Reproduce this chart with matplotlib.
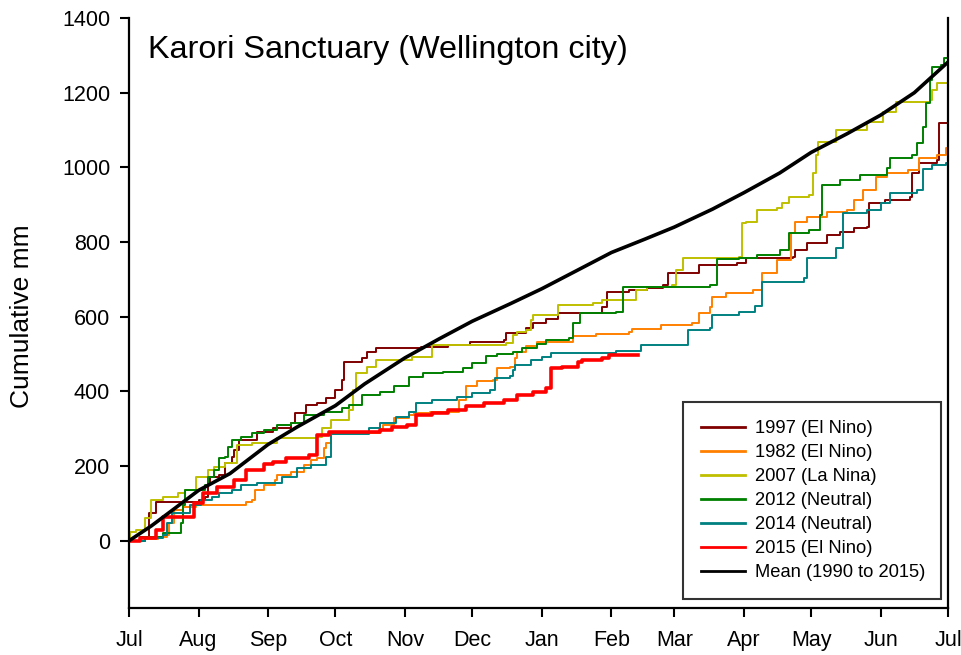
import matplotlib
matplotlib.use("Agg")
import matplotlib.pyplot as plt

plt.rcParams['font.family'] = ['Liberation Sans', 'DejaVu Sans']

# ---- axis labels / ticks ----
month_days = [0, 31, 62, 92, 123, 153, 184, 215, 243, 274, 304, 335, 365]
month_labels = ['Jul', 'Aug', 'Sep', 'Oct', 'Nov', 'Dec', 'Jan', 'Feb', 'Mar',
                'Apr', 'May', 'Jun', 'Jul']
y_ticks = [0, 200, 400, 600, 800, 1000, 1200, 1400]

# ---- series (day since 1 July, cumulative mm) ----
d1997 = [0, 5, 9, 12, 31, 34, 35, 36, 40, 43, 46, 47, 49, 57, 64, 72, 74, 79, 84, 88,
         92, 95, 96, 104, 106, 110, 130, 142, 152, 167, 168, 177, 180, 186, 191, 211,
         213, 223, 231, 238, 240, 254, 271, 275, 296, 297, 302, 311, 317, 323, 329,
         330, 337, 348, 349, 352, 360, 361, 365]
v1997 = [0, 11, 75, 104, 110, 118, 155, 171, 177, 209, 225, 244, 270, 292, 303, 316,
         343, 364, 369, 383, 404, 431, 479, 490, 506, 517, 519, 525, 533, 538, 557,
         570, 583, 595, 610, 626, 667, 672, 677, 685, 717, 739, 744, 758, 760, 779,
         798, 819, 827, 838, 841, 905, 913, 921, 985, 1012, 1020, 1119, 1127]

d1982 = [0, 7, 13, 17, 18, 20, 24, 30, 52, 55, 56, 60, 65, 66, 72, 78, 81, 84, 87, 88,
         90, 112, 113, 118, 125, 127, 134, 147, 150, 155, 162, 164, 170, 172, 173,
         177, 182, 198, 208, 223, 224, 237, 251, 254, 259, 260, 266, 278, 282, 289,
         295, 297, 302, 311, 320, 323, 327, 333, 338, 347, 352, 360, 364, 365]
v1982 = [0, 5, 11, 16, 48, 83, 91, 96, 104, 110, 137, 150, 163, 177, 185, 203, 217,
         222, 249, 262, 288, 300, 311, 329, 337, 343, 345, 378, 415, 428, 431, 462,
         466, 490, 506, 522, 533, 549, 555, 560, 568, 578, 583, 610, 626, 652, 664,
         672, 717, 752, 824, 855, 867, 881, 886, 913, 940, 975, 985, 993, 1025, 1033,
         1052, 1052]

d2007 = [0, 0.5, 3, 7, 10, 15, 22, 25, 30, 35, 38, 43, 48, 55, 66, 84, 86, 90, 98,
         100, 101, 106, 110, 126, 135, 168, 171, 173, 177, 179, 180, 191, 207, 211,
         223, 226, 231, 242, 244, 247, 272, 273, 275, 280, 289, 291, 294, 303, 305,
         306, 307, 315, 329, 336, 342, 357, 358, 360, 365]
v2007 = [0, 24, 29, 61, 110, 118, 128, 137, 171, 190, 198, 209, 257, 262, 276, 278,
         303, 324, 351, 404, 450, 466, 485, 493, 525, 530, 552, 560, 565, 592, 605,
         632, 637, 645, 645, 672, 680, 685, 725, 758, 760, 851, 854, 886, 891, 905,
         921, 926, 985, 1033, 1068, 1100, 1122, 1149, 1175, 1181, 1207, 1226, 1226]

d2012 = [0, 7, 15, 23, 24, 25, 34, 35, 38, 40, 43, 44, 46, 50, 55, 60, 66, 72, 78, 87,
         95, 98, 104, 112, 118, 125, 131, 140, 149, 153, 159, 164, 171, 175, 182, 186,
         196, 198, 201, 217, 220, 259, 262, 272, 280, 290, 294, 303, 308, 309, 317,
         326, 338, 339, 349, 351, 354, 355, 357, 358, 362, 363, 365]
v2012 = [0, 11, 21, 48, 96, 137, 150, 171, 190, 222, 225, 252, 270, 278, 289, 297,
         311, 316, 337, 345, 356, 364, 391, 399, 415, 439, 450, 452, 463, 477, 495,
         500, 506, 517, 528, 538, 543, 583, 610, 613, 680, 685, 755, 758, 766, 779,
         824, 833, 873, 953, 967, 980, 999, 1025, 1033, 1066, 1108, 1173, 1234, 1269,
         1274, 1293, 1293]

d2014 = [0, 7, 15, 17, 19, 27, 32, 37, 40, 46, 50, 57, 68, 75, 81, 88, 90, 107, 112,
         119, 125, 128, 135, 146, 153, 161, 163, 170, 171, 172, 179, 184, 188, 217,
         228, 249, 259, 260, 272, 279, 282, 301, 302, 315, 318, 329, 335, 339, 351,
         354, 358, 364, 365]
v2014 = [0, 8, 16, 48, 75, 96, 110, 118, 128, 137, 150, 155, 171, 195, 203, 225, 287,
         303, 316, 332, 345, 369, 378, 386, 396, 404, 436, 440, 458, 471, 485, 493,
         503, 508, 525, 565, 570, 605, 612, 630, 693, 704, 758, 784, 878, 886, 905,
         932, 940, 995, 1005, 1012, 1012]

d2015 = [0, 5, 12, 15, 27, 29, 33, 39, 47, 52, 60, 64, 70, 80, 84, 89, 112, 117, 124,
         128, 135, 142, 150, 158, 167, 173, 180, 186, 188, 193, 200, 202, 211, 214, 227]
v2015 = [0, 8, 29, 64, 64, 102, 128, 145, 163, 190, 205, 211, 222, 230, 284, 292, 297,
         305, 311, 337, 343, 351, 361, 369, 378, 391, 399, 409, 463, 466, 478, 485,
         490, 498, 498]

d_mean = [0, 10, 20, 31, 45, 62, 75, 92, 105, 123, 138, 153, 170, 184, 200, 215, 230,
          243, 260, 274, 290, 304, 320, 335, 350, 365]
v_mean = [0, 40, 85, 135, 180, 258, 305, 362, 420, 490, 540, 588, 635, 675, 725, 772,
          808, 840, 888, 932, 985, 1040, 1090, 1140, 1200, 1282]

fig = plt.figure(figsize=(9.61, 6.55), dpi=100)
ax = fig.add_axes([129/961, 1-608/655, (948-129)/961, (608-18)/655])

thin = 1.4
thick = 2.6
ax.plot(d1997, v1997, drawstyle='steps-post', color='#800000', lw=thin, label='1997 (El Nino)')
ax.plot(d1982, v1982, drawstyle='steps-post', color='#FF8000', lw=thin, label='1982 (El Nino)')
ax.plot(d2007, v2007, drawstyle='steps-post', color='#BFBF00', lw=thin, label='2007 (La Nina)')
ax.plot(d2012, v2012, drawstyle='steps-post', color='#008000', lw=thin, label='2012 (Neutral)')
ax.plot(d2014, v2014, drawstyle='steps-post', color='#008080', lw=thin, label='2014 (Neutral)')
ax.plot(d2015, v2015, drawstyle='steps-post', color='#FF0000', lw=thick, label='2015 (El Nino)')
ax.plot(d_mean, v_mean, color='black', lw=thick, label='Mean (1990 to 2015)')

ax.set_xlim(0, 365)
ax.set_ylim(-180, 1400)
ax.set_xticks(month_days)
ax.set_xticklabels(month_labels)
ax.set_yticks(y_ticks)
ax.tick_params(axis='both', direction='out', length=6.5, width=1.5, labelsize=15.5,
               colors='black')
ax.tick_params(axis='y', pad=7)
ax.tick_params(axis='x', pad=9)
for s in ['left', 'bottom', 'right']:
    ax.spines[s].set_linewidth(1.6)
ax.spines['top'].set_visible(False)

fig.text(22/961, 1-316/655, 'Cumulative mm', rotation=90, fontsize=19,
         ha='center', va='center')

ax.text(0.023, 0.946, 'Karori Sanctuary (Wellington city)', transform=ax.transAxes,
        fontsize=23.3, va='center', ha='left')

y_top = (608-402)/590
y_bot = (608-600)/590
x_l = (683-129)/819
x_r = (941-129)/819
leg = ax.legend(loc='upper left', bbox_to_anchor=(x_l, y_bot, x_r-x_l, y_top-y_bot),
                mode='expand', fontsize=13.2, frameon=True, fancybox=False,
                edgecolor='black', handlelength=2.4, borderpad=1.0, labelspacing=0.38,
                handletextpad=0.55, borderaxespad=0)
leg.get_frame().set_linewidth(1.5)
for h in leg.get_lines():
    h.set_linewidth(2.0)

fig.savefig('out.png', dpi=100)
